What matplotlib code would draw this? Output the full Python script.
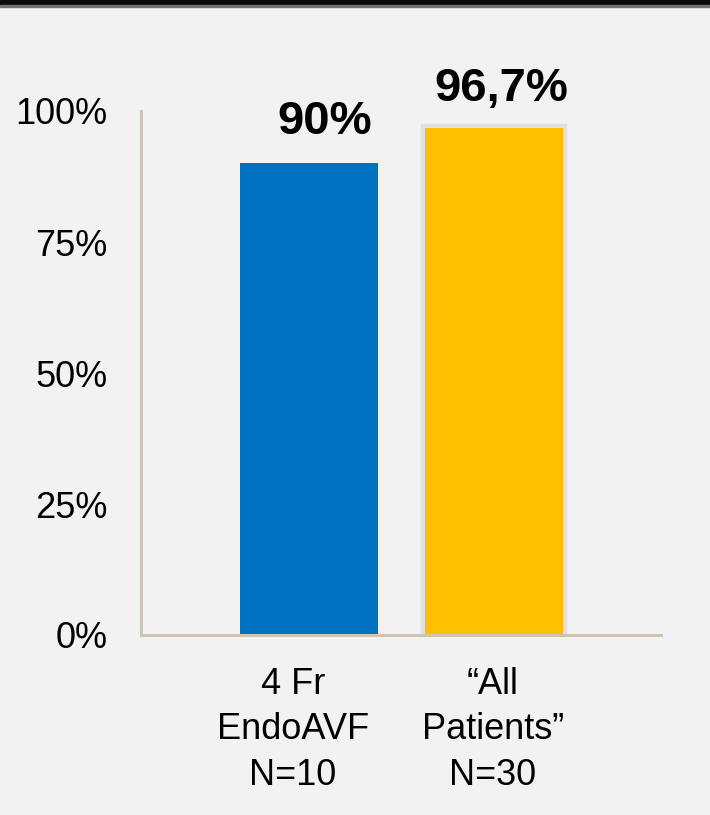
import matplotlib.pyplot as plt
import matplotlib.patheffects as pe
from matplotlib.patches import Rectangle

plt.rcParams['font.family'] = ['Liberation Sans', 'DejaVu Sans']

# data
categories = ["4 Fr\nEndoAVF\nN=10", "\u201cAll\nPatients\u201d\nN=30"]
values = [90.0, 96.7]
value_labels = ["90%", "96,7%"]
yticks = [0, 25, 50, 75, 100]
ytick_labels = ["0%", "25%", "50%", "75%", "100%"]

bar_colors = ["#0070C0", "#FFC000"]
axis_col = "#ccc6b0"
bg = "#f2f2f2"

fig = plt.figure(figsize=(7.1, 8.15), dpi=100, facecolor=bg)
ax = fig.add_axes([141/710, 1-635/815, 520/710, 524/815])
ax.set_facecolor(bg)

x = list(range(len(categories)))
bars = ax.bar(x, values, width=0.746, color=bar_colors, zorder=3)
# soft glow around the second bar
bars[1].set_path_effects([pe.withStroke(linewidth=6, foreground="#e0e0e0"), pe.Normal()])

ax.set_xlim(-0.908, 1.903)
ax.set_ylim(0, 100)

for s in ["top", "right"]:
    ax.spines[s].set_visible(False)
for s in ["left", "bottom"]:
    ax.spines[s].set_color(axis_col)
    ax.spines[s].set_linewidth(2.2)
    ax.spines[s].set_zorder(4)

ax.set_yticks(yticks)
ax.set_yticklabels(ytick_labels, fontsize=26)
ax.tick_params(axis="y", length=0, pad=24)
ax.set_xticks([])

# value labels above bars (offsets in points)
val_dx = [11, 5]
val_dy = [21, 20]
for i, (v, lab) in enumerate(zip(values, value_labels)):
    ax.annotate(lab, (i, v), xytext=(val_dx[i], val_dy[i]), textcoords="offset points",
                ha="center", va="baseline", fontsize=34, fontweight="bold")

# category labels, one text per line
cat_dx = [-11.5, -0.7]
line_dy = [-42.5, -75, -108]
for i, cat in enumerate(categories):
    for j, line in enumerate(cat.split("\n")):
        ax.annotate(line, (i, 0), xytext=(cat_dx[i], line_dy[j]), textcoords="offset points",
                    ha="center", va="baseline", fontsize=26,
                    annotation_clip=False)

# dark frame band at the top
fig.patches.append(Rectangle((0, 1-5/815), 1, 5/815, transform=fig.transFigure,
                             color="#0a0a0a", zorder=10))
fig.patches.append(Rectangle((0, 1-7/815), 1, 2/815, transform=fig.transFigure,
                             color="#707070", zorder=10))

fig.savefig("out.png", dpi=100, facecolor=bg)
